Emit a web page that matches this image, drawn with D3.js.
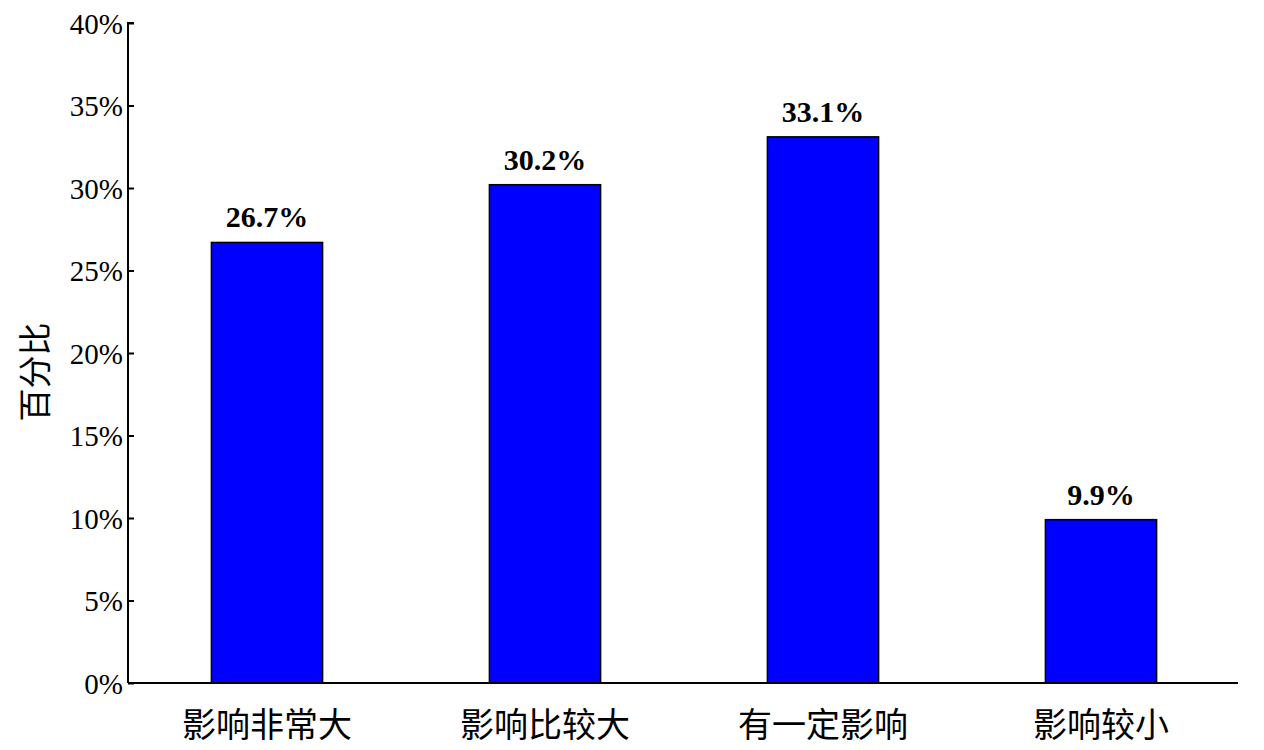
<!DOCTYPE html>
<html>
<head>
<meta charset="utf-8">
<script src="https://cdn.jsdelivr.net/npm/d3@7"></script>
<style>
  body { margin: 0; background: #fff; }
  svg { display: block; }
</style>
</head>
<body>
<div class="graph"></div>
<script>
// chart data
const categories = ['影响非常大', '影响比较大', '有一定影响', '影响较小'];
const percents = [26.7, 30.2, 33.1, 9.9];
const yTicks = [0, 5, 10, 15, 20, 25, 30, 35, 40];

const width = 1264;
const height = 750;
const margin = { left: 128, right: 24, top: 23, bottom: 67 };

const svg = d3.select('.graph').append('svg')
  .attr('width', width)
  .attr('height', height);

const x = d3.scaleBand()
  .domain(categories)
  .range([margin.left, width - margin.right])
  .paddingInner(0.6)
  .paddingOuter(0.3);

const y = d3.scaleLinear()
  .domain([0, 40])
  .range([height - margin.bottom, margin.top]);

const serif = '"Liberation Serif", "Times New Roman", serif';
const cjk = '"Noto Sans CJK SC", sans-serif';

// bars
svg.selectAll('rect.bar')
  .data(percents)
  .enter().append('rect')
  .attr('class', 'bar')
  .attr('x', (d, i) => x(categories[i]))
  .attr('y', d => y(d))
  .attr('width', x.bandwidth())
  .attr('height', d => y(0) - y(d))
  .attr('fill', '#0000ff')
  .attr('stroke', '#000')
  .attr('stroke-width', 1.5);

// value labels
svg.selectAll('text.val')
  .data(percents)
  .enter().append('text')
  .attr('class', 'val')
  .attr('x', (d, i) => x(categories[i]) + x.bandwidth() / 2)
  .attr('y', d => y(d) - 15)
  .attr('text-anchor', 'middle')
  .style('font-family', serif)
  .style('font-weight', 'bold')
  .style('font-size', '30px')
  .text(d => d.toFixed(1) + '%');

// y axis, ticks pointing inward
const yAxis = svg.append('g')
  .attr('transform', `translate(${margin.left},0)`)
  .call(d3.axisRight(y).tickValues(yTicks).tickSize(6).tickFormat(d => d + '%'));
yAxis.select('.domain').attr('d', `M6,${y(40)}H0V${y(0)}`).attr('stroke-width', 2);
yAxis.selectAll('.tick line').attr('stroke-width', 2);
yAxis.selectAll('.tick text')
  .attr('x', -5)
  .attr('dy', '0.36em')
  .attr('text-anchor', 'end')
  .attr('fill', '#000')
  .style('font-family', serif)
  .style('font-size', '29px');

// x axis line
svg.append('line')
  .attr('x1', margin.left)
  .attr('x2', width - margin.right - 2)
  .attr('y1', y(0))
  .attr('y2', y(0))
  .attr('stroke', '#000')
  .attr('stroke-width', 2);

// category labels
svg.selectAll('text.cat')
  .data(categories)
  .enter().append('text')
  .attr('class', 'cat')
  .attr('x', d => x(d) + x.bandwidth() / 2)
  .attr('y', y(0) + 54)
  .attr('text-anchor', 'middle')
  .style('font-family', cjk)
  .style('font-size', '34px')
  .text(d => d);

// y title
svg.append('text')
  .attr('transform', `translate(47,${(y(0) + y(40)) / 2 + 19}) rotate(-90)`)
  .attr('text-anchor', 'middle')
  .style('font-family', cjk)
  .style('font-size', '33px')
  .text('百分比');
</script>
</body>
</html>
